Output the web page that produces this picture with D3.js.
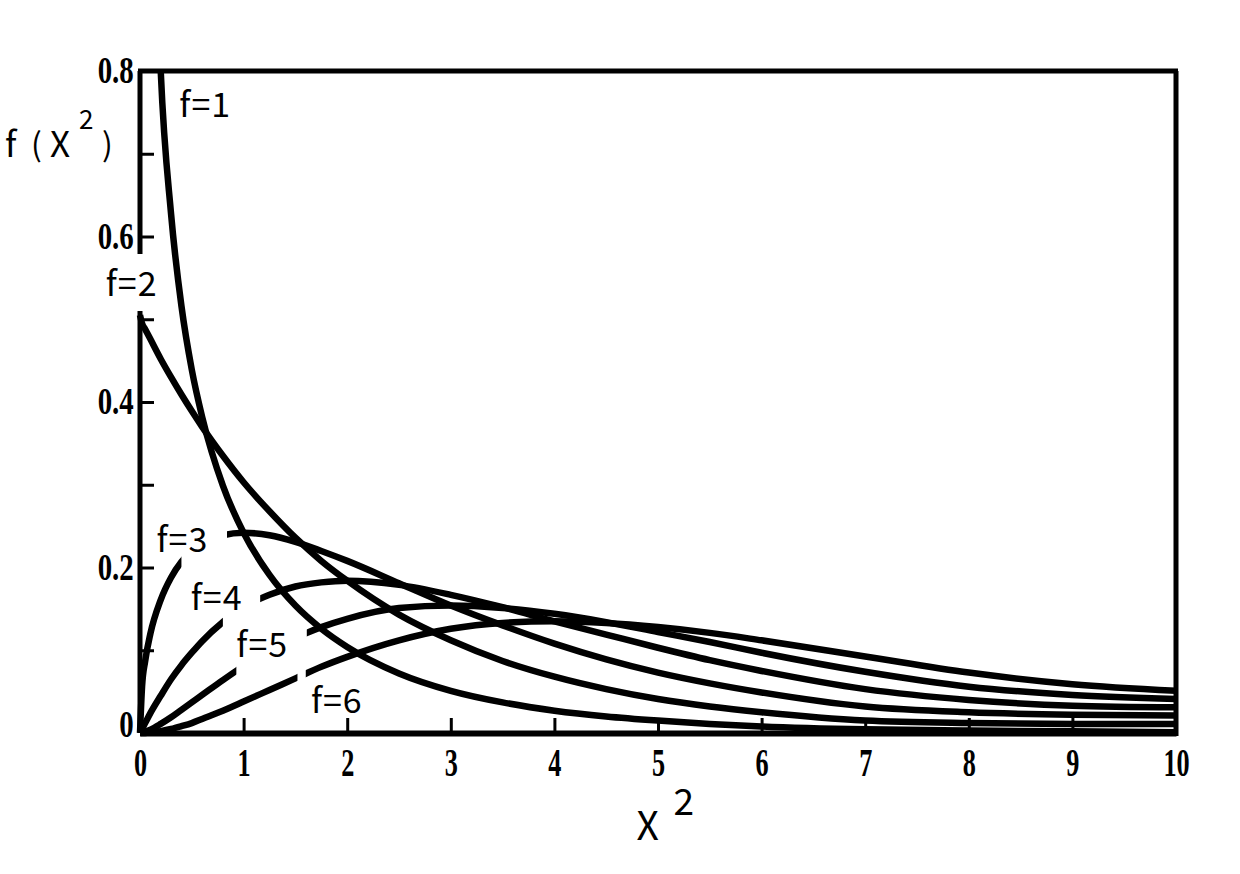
<!DOCTYPE html>
<html>
<head>
<meta charset="utf-8">
<script src="https://cdn.jsdelivr.net/npm/d3@7/dist/d3.min.js"></script>
<style>
  html, body { margin: 0; padding: 0; background: #fff; }
  svg { display: block; }
</style>
</head>
<body>
<svg id="chart" width="1240" height="874"></svg>
<script>
// ---------------- data ----------------
const xs = [0, 0.02, 0.05, 0.1, 0.2, 0.3, 0.4, 0.5, 0.6, 0.8, 1, 1.25, 1.5, 1.75, 2, 2.5, 3, 3.5, 4, 4.5, 5, 5.5, 6, 7, 8, 9, 10];
const f1 = [null, null, null, 1.20, 0.80, 0.627, 0.516, 0.439, 0.382, 0.299, 0.242, 0.191, 0.154, 0.126, 0.104, 0.072, 0.051, 0.037, 0.027, 0.020, 0.015, 0.011, 0.008, 0.0045, 0.003, 0.002, 0.001];
const f2 = [0.505, 0.495, 0.488, 0.476, 0.452, 0.430, 0.409, 0.389, 0.370, 0.335, 0.303, 0.268, 0.236, 0.208, 0.184, 0.143, 0.112, 0.087, 0.068, 0.053, 0.041, 0.032, 0.025, 0.015, 0.012, 0.011, 0.011];
const f3 = [0, 0.056, 0.087, 0.120, 0.161, 0.188, 0.207, 0.220, 0.229, 0.239, 0.242, 0.239, 0.231, 0.220, 0.208, 0.181, 0.154, 0.130, 0.108, 0.089, 0.073, 0.060, 0.049, 0.032, 0.025, 0.022, 0.021];
const f4 = [0, 0.005, 0.012, 0.024, 0.045, 0.065, 0.082, 0.097, 0.111, 0.134, 0.152, 0.167, 0.177, 0.182, 0.184, 0.179, 0.167, 0.152, 0.135, 0.119, 0.103, 0.088, 0.075, 0.053, 0.040, 0.033, 0.031];
const f5 = [0, 0.0004, 0.0015, 0.004, 0.011, 0.019, 0.028, 0.037, 0.046, 0.064, 0.081, 0.100, 0.115, 0.128, 0.138, 0.151, 0.154, 0.151, 0.144, 0.134, 0.122, 0.110, 0.097, 0.074, 0.056, 0.046, 0.041];
const f6 = [0, 0, 0.0001, 0.0006, 0.0023, 0.0048, 0.0082, 0.012, 0.017, 0.027, 0.038, 0.052, 0.066, 0.080, 0.092, 0.112, 0.126, 0.133, 0.135, 0.133, 0.128, 0.121, 0.112, 0.0925, 0.073, 0.059, 0.051];

const seriesNames = ["f=1", "f=2", "f=3", "f=4", "f=5", "f=6"];
// gaps in each curve where the label sits (x range, null = no gap)
const seriesGaps = [null, null, [0.40, 0.84], [0.80, 1.16], [0.93, 1.61], [1.52, 1.60]];
// label anchor (left x, baseline y) in data units
const labelX = [0.38, -0.33, 0.16, 0.49, 0.93, 1.65];
const labelY = [0.745, 0.528, 0.219, 0.149, 0.092, 0.024];

const xTicks = [0, 1, 2, 3, 4, 5, 6, 7, 8, 9, 10];
const xTickLabels = ["0", "1", "2", "3", "4", "5", "6", "7", "8", "9", "10"];
const yTicks = [0, 0.1, 0.2, 0.3, 0.4, 0.5, 0.6, 0.7, 0.8];
const yTickLabels = ["0", "", "0.2", "", "0.4", "", "0.6", "", "0.8"];

// ---------------- drawing ----------------
const svg = d3.select("#chart");
const x = d3.scaleLinear().domain([0, 10]).range([140, 1176]);
const y = d3.scaleLinear().domain([0, 0.8]).range([733, 71]);

const INK = "#000";
const labelFont = "'Noto Sans CJK JP','Noto Sans',sans-serif";
const tickFont = "'Liberation Serif','DejaVu Serif',serif";

// clip paths per series (plot area minus label gap)
const defs = svg.append("defs");
const allSeries = [f1, f2, f3, f4, f5, f6];
allSeries.forEach((s, i) => {
  const cp = defs.append("clipPath").attr("id", "clip" + i);
  const top = y(0.8), bot = y(0) + 4;
  const g = seriesGaps[i];
  const ranges = g ? [[x(0) - 6, x(g[0])], [x(g[1]), x(10)]] : [[x(0) - 6, x(10)]];
  ranges.forEach(r => {
    cp.append("rect").attr("x", r[0]).attr("y", top).attr("width", r[1] - r[0]).attr("height", bot - top);
  });
});

const line = d3.line()
  .defined(d => d[1] !== null)
  .x(d => x(d[0]))
  .y(d => y(d[1]))
  .curve(d3.curveMonotoneX);

allSeries.forEach((s, i) => {
  const pts = xs.map((xv, k) => [xv, s[k]]);
  svg.append("path")
    .attr("d", line(pts))
    .attr("fill", "none")
    .attr("stroke", INK)
    .attr("stroke-width", 6.5)
    .attr("stroke-linejoin", "round")
    .attr("clip-path", `url(#clip${i})`);
});

// x axis
const xAxis = d3.axisBottom(x)
  .tickValues(xTicks)
  .tickFormat((d, i) => xTickLabels[i])
  .tickSize(-15)
  .tickSizeOuter(0)
  .tickPadding(14);
const gx = svg.append("g").attr("transform", `translate(0,${y(0)})`).call(xAxis);
gx.select(".domain").attr("stroke", INK).attr("stroke-width", 6);
gx.selectAll(".tick line").attr("stroke", INK).attr("stroke-width", 3);
gx.selectAll(".tick text")
  .attr("fill", INK)
  .attr("font-family", tickFont)
  .attr("font-weight", "bold")
  .attr("font-size", 41)
  .attr("dy", "0.71em")
  .attr("transform", "scale(0.64,1)");

// y axis (ticks & labels only, domain drawn separately)
const yAxis = d3.axisLeft(y)
  .tickValues(yTicks)
  .tickFormat((d, i) => yTickLabels[i])
  .tickSize(-14)
  .tickSizeOuter(0)
  .tickPadding(8);
const gy = svg.append("g").attr("transform", `translate(${x(0)},0)`).call(yAxis);
gy.select(".domain").remove();
gy.selectAll(".tick line").attr("stroke", INK).attr("stroke-width", 3);
gy.selectAll(".tick text")
  .attr("fill", INK)
  .attr("font-family", tickFont)
  .attr("font-weight", "bold")
  .attr("font-size", 37)
  .attr("y", d => d === 0 ? -8 : 0)
  .attr("transform", "scale(0.78,1)");

// left axis line with a gap at the f=2 label
const yAxisSegs = [[0.8, 0.579], [0.51, 0]];
yAxisSegs.forEach(sg => {
  svg.append("line")
    .attr("x1", x(0)).attr("x2", x(0))
    .attr("y1", y(sg[0])).attr("y2", y(sg[1]))
    .attr("stroke", INK).attr("stroke-width", 5);
});
// top & right frame
svg.append("line").attr("x1", x(0) - 2).attr("x2", x(10) + 2).attr("y1", y(0.8)).attr("y2", y(0.8))
  .attr("stroke", INK).attr("stroke-width", 5);
svg.append("line").attr("x1", x(10)).attr("x2", x(10)).attr("y1", y(0.8)).attr("y2", y(0) + 3)
  .attr("stroke", INK).attr("stroke-width", 5);

// curve labels
seriesNames.forEach((name, i) => {
  svg.append("text")
    .attr("x", x(labelX[i]))
    .attr("y", y(labelY[i]))
    .attr("font-family", labelFont)
    .attr("font-size", 34)
    .attr("letter-spacing", 1)
    .attr("fill", INK)
    .text(name);
});

// y-axis title f(X^2)
const yt = svg.append("g").attr("font-family", labelFont).attr("fill", INK);
yt.append("text").attr("x", 5).attr("y", 157).attr("font-size", 35).text("f");
yt.append("text").attr("x", 31).attr("y", 156).attr("font-size", 32).text("(");
yt.append("text").attr("x", 50).attr("y", 157).attr("font-size", 35).text("X");
yt.append("text").attr("x", 79).attr("y", 129).attr("font-size", 26).text("2");
yt.append("text").attr("x", 102).attr("y", 156).attr("font-size", 32).text(")");

// x-axis title X^2
const xt = svg.append("g").attr("font-family", labelFont).attr("fill", INK);
xt.append("text").attr("x", x(4.9)).attr("y", 840).attr("text-anchor", "middle").attr("font-size", 39).text("X");
xt.append("text").attr("x", x(5.15)).attr("y", 815).attr("font-size", 37).text("2");
</script>
</body>
</html>
